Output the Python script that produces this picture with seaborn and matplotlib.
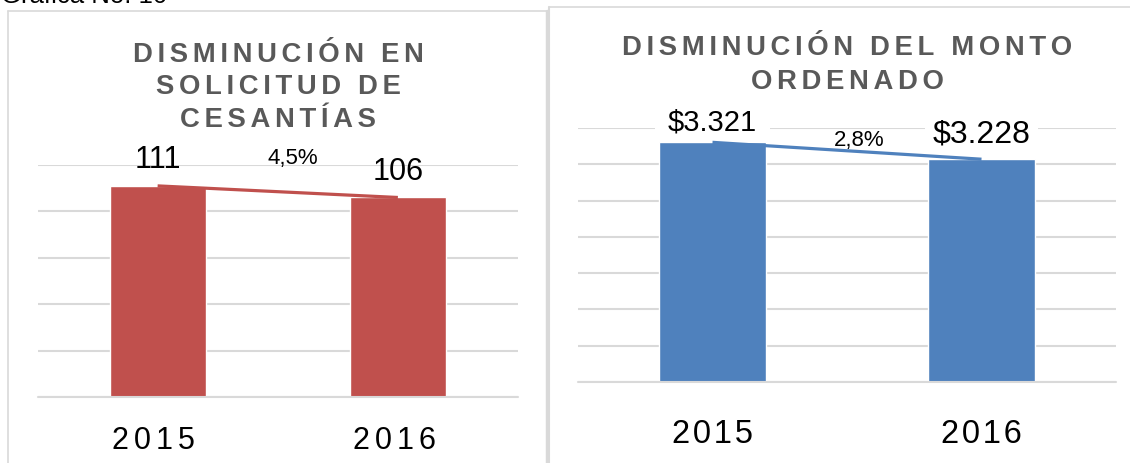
import matplotlib
matplotlib.use("Agg")
import matplotlib.pyplot as plt
from matplotlib.lines import Line2D
import seaborn as sns
import pandas as pd

# ---------------- data ----------------
years = ["2015", "2016"]
solicitudes = [111, 106]
monto = [3321, 3228]
monto_labels = ["$3.321", "$3.228"]
left_ticks = [20, 40, 60, 80, 100, 120]
right_ticks = [2000, 2200, 2400, 2600, 2800, 3000, 3200, 3400]
title_left = ["DISMINUCIÓN EN", "SOLICITUD DE", "CESANTÍAS"]
title_right = ["DISMINUCIÓN DEL MONTO", "ORDENADO"]
heading = "Gráfica No. 10"

RED = "#C0504D"
BLUE = "#4F81BD"
GRID = "#D9D9D9"
TITLE_C = "#595959"

sns.set_theme(style="white")
plt.rcParams['font.family'] = ['Liberation Sans', 'DejaVu Sans']

W, H = 1130, 464
fig = plt.figure(figsize=(W / 100, H / 100), dpi=100)
fig.patch.set_facecolor("white")


def spaced(s, sep="\u200a"):
    return sep.join(s)


def rect(x0, x1, ytop, ybot):
    return [x0 / W, 1 - ybot / H, (x1 - x0) / W, (ybot - ytop) / H]


def pct_text(a, b):
    return f"{(a - b) / a * 100:.1f}%".replace(".", ",")


def style_axes(ax, ticks, pad, fs, sep, trail=""):
    ax.set_ylim(ticks[0], ticks[-1])
    ax.set_yticks(ticks)
    ax.set_xlim(-0.5, len(years) - 0.5)
    ax.yaxis.grid(True, color=GRID, lw=1.5, zorder=0.5)
    ax.xaxis.grid(False)
    ax.set_axisbelow(True)
    for s in ax.spines.values():
        s.set_visible(False)
    ax.tick_params(axis="y", left=False, labelleft=False)
    ax.tick_params(axis="x", length=0, pad=pad, labelsize=fs, labelcolor="black")
    ax.set_xticks(range(len(years)))
    ax.set_xticklabels([spaced(y, sep) + trail for y in years])
    ax.set_xlabel("")
    ax.set_ylabel("")
    ax.set_facecolor("none")
    ax.axhline(ticks[0], color=GRID, lw=1.5, zorder=5, clip_on=False)


# ---------------- left panel ----------------
axL = fig.add_axes(rect(37.5, 518, 166, 398))
dfL = pd.DataFrame({"year": years, "value": solicitudes})
sns.barplot(data=dfL, x="year", y="value", ax=axL, color=RED, width=0.4,
            saturation=1, zorder=2)
style_axes(axL, left_ticks, 20, 22, "\u200a\u200a", "\u200a\u200a\u200a")
axL.plot(range(len(years)), solicitudes, color=RED, lw=2.3, zorder=4,
         solid_capstyle="butt")
for i, (v, off) in enumerate(zip(solicitudes, [19, 18])):
    axL.annotate(str(v), xy=(i, v), xytext=(0, off), textcoords="offset pixels",
                 ha="center", va="baseline", fontsize=22, color="black", zorder=6)
axL.annotate(pct_text(*solicitudes), xy=(0.5, sum(solicitudes) / 2),
             xytext=(15, 29), textcoords="offset pixels", ha="center",
             va="baseline", fontsize=16, color="black", zorder=6)

# ---------------- right panel ----------------
axR = fig.add_axes(rect(578, 1116, 129, 383))
dfR = pd.DataFrame({"year": years, "value": monto})
sns.barplot(data=dfR, x="year", y="value", ax=axR, color=BLUE, width=0.4,
            saturation=1, zorder=2)
style_axes(axR, right_ticks, 26, 23.5, "\u200a")
axR.plot(range(len(years)), monto, color=BLUE, lw=2.3, zorder=4,
         solid_capstyle="butt")
for i, (lab, v, off, fs, pd_) in enumerate(zip(monto_labels, monto, [13, 18],
                                                [21, 23], [0.45, 0.25])):
    axR.annotate(lab, xy=(i, v), xytext=(0, off), textcoords="offset pixels",
                 ha="center", va="baseline", fontsize=fs, color="black",
                 zorder=1.5,
                 bbox=dict(boxstyle=f"square,pad={pd_}", fc="white", ec="none"))
axR.annotate(pct_text(*monto), xy=(0.5, sum(monto) / 2),
             xytext=(12, 6), textcoords="offset pixels", ha="center",
             va="baseline", fontsize=16, color="black", zorder=6)

# ---------------- titles ----------------
for k, line in enumerate(title_left):
    fig.text(278 / W, 1 - (62 + 32.5 * k) / H, spaced(line, "\u2006"),
             ha="center", va="baseline", fontsize=19.8, fontweight="bold",
             color=TITLE_C)
for k, line in enumerate(title_right):
    fig.text(847 / W, 1 - (55 + 34 * k) / H, spaced(line, "\u2006"),
             ha="center", va="baseline", fontsize=19.8, fontweight="bold",
             color=TITLE_C)

fig.text(167 / W, 1 - 3 / H, heading, ha="right", va="baseline", fontsize=18.5,
         color="black")

# ---------------- panel borders ----------------
def fline(x0, y0, x1, y1, lw=1.2):
    fig.add_artist(Line2D([x0 / W, x1 / W], [1 - y0 / H, 1 - y1 / H],
                          color=GRID, lw=lw, transform=fig.transFigure))

fline(8, 12, 548, 12)
fline(8, 12, 8, 464)
fline(547, 12, 547, 464, lw=2.5)
fline(549, 8, 1130, 8)
fline(549, 8, 549, 464, lw=1.5)

fig.savefig("out.png", dpi=100, facecolor="white")
